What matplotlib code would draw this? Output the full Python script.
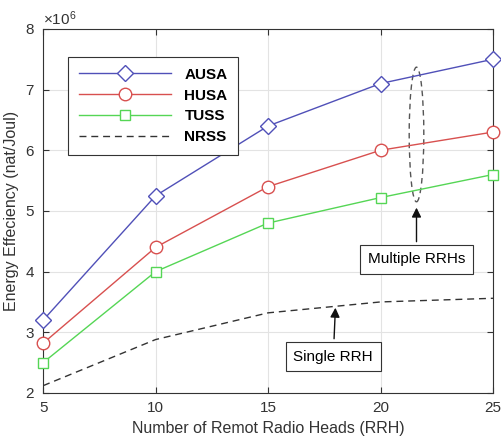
import matplotlib
matplotlib.use("Agg")
import matplotlib.pyplot as plt
from matplotlib.patches import Ellipse
from matplotlib.ticker import ScalarFormatter
import numpy as np

plt.rcParams['font.family'] = ['Liberation Sans', 'DejaVu Sans']
plt.rcParams['mathtext.fontset'] = 'custom'
plt.rcParams['mathtext.rm'] = 'Liberation Sans'

rrh = [5, 10, 15, 20, 25]
ausa = [3.2, 5.25, 6.4, 7.1, 7.5]
husa = [2.82, 4.4, 5.4, 6.0, 6.3]
tuss = [2.5, 4.0, 4.8, 5.22, 5.6]
nrss = [2.12, 2.88, 3.32, 3.5, 3.56]
scale = 1e6

fig = plt.figure(figsize=(5.02, 4.45), dpi=100)
ax = fig.add_axes([0.086, 0.117, 0.896, 0.818])

x = np.array(rrh)
kw = dict(mfc="white", mew=1.0, lw=1.0, clip_on=False, zorder=3)
ax.plot(x, np.array(ausa) * scale, color="#5050b8", marker="D", ms=8, label="AUSA", **kw)
ax.plot(x, np.array(husa) * scale, color="#d8504f", marker="o", ms=9, label="HUSA", **kw)
ax.plot(x, np.array(tuss) * scale, color="#55d655", marker="s", ms=7.5, label="TUSS", **kw)
ax.plot(x, np.array(nrss) * scale, color="#333333", ls=(0, (5, 3.5)), lw=1.0, label="NRSS")

ax.set_xlim(5, 25)
ax.set_ylim(2e6, 8e6)
ax.set_xticks(rrh)
ax.set_yticks(np.arange(2, 9) * scale)
fmt = ScalarFormatter(useMathText=True)
fmt.set_powerlimits((0, 0))
ax.yaxis.set_major_formatter(fmt)
ax.grid(True, color="#e3e3e3", lw=0.8)
ax.set_axisbelow(True)
ax.tick_params(direction="in", length=4, labelsize=11, colors="#333333", top=True, right=True, pad=6)
for s in ax.spines.values():
    s.set_color("#333333")
    s.set_linewidth(0.8)
ax.yaxis.get_offset_text().set_fontsize(11)

ax.set_xlabel("Number of Remot Radio Heads (RRH)", fontsize=11.5, color="#333333")
ax.set_ylabel("Energy Effeciency (nat/Joul)", fontsize=11.5, color="#333333")

leg = ax.legend(loc="upper left", bbox_to_anchor=(0.056, 0.923), borderaxespad=0, handlelength=6.0,
                borderpad=0.7, labelspacing=0.45, handletextpad=0.9, fancybox=False,
                edgecolor="#333333", framealpha=1, prop={"weight": "bold", "size": 11})
leg.get_frame().set_linewidth(0.8)

# annotations
ax.add_patch(Ellipse((21.6, 6.26e6), 0.65, 2.22e6, fill=False, ls=(0, (4, 3)), color="#555555", lw=1.0))
ax.annotate("Multiple RRHs", xy=(21.6, 5.1e6), xytext=(21.6, 4.2e6), ha="center", va="center",
            fontsize=11, bbox=dict(boxstyle="square,pad=0.5", fc="white", ec="#333333", lw=0.8),
            arrowprops=dict(arrowstyle="-|>", color="#111111", lw=1.0, mutation_scale=14))
ax.annotate("Single RRH", xy=(18.0, 3.45e6), xytext=(17.9, 2.6e6), ha="center", va="center",
            fontsize=11, bbox=dict(boxstyle="square,pad=0.5", fc="white", ec="#333333", lw=0.8),
            arrowprops=dict(arrowstyle="-|>", color="#111111", lw=1.0, mutation_scale=14))

fig.savefig("out.png", dpi=100)
